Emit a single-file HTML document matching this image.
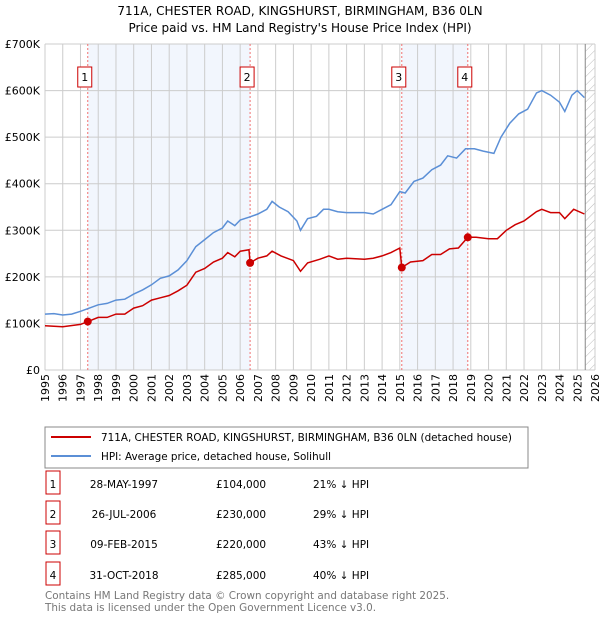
<!DOCTYPE html>
<html><head><meta charset="utf-8"><style>
body{margin:0;background:#fff;font-family:"Liberation Sans","DejaVu Sans",sans-serif;}
svg text{font-family:"DejaVu Sans","Liberation Sans",sans-serif;}
</style></head><body>
<svg id="c" width="600" height="620" viewBox="0 0 600 620" xmlns="http://www.w3.org/2000/svg">
<text x="300" y="15" text-anchor="middle" font-size="12">711A, CHESTER ROAD, KINGSHURST, BIRMINGHAM, B36 0LN</text>
<text x="300" y="32" text-anchor="middle" font-size="12">Price paid vs. HM Land Registry's House Price Index (HPI)</text>
<defs><pattern id="h" width="6" height="6" patternUnits="userSpaceOnUse" patternTransform="rotate(45)"><line x1="0" y1="0" x2="0" y2="6" stroke="#bbb" stroke-width="1"/></pattern></defs>
<g id="plot"></g>
<rect x="45" y="427" width="483" height="41" fill="#fff" stroke="#888"/>
<line x1="51" y1="437" x2="91" y2="437" stroke="#cc0000" stroke-width="2"/>
<text x="101" y="441" font-size="10.4">711A, CHESTER ROAD, KINGSHURST, BIRMINGHAM, B36 0LN (detached house)</text>
<line x1="51" y1="456" x2="91" y2="456" stroke="#5b8fd6" stroke-width="2"/>
<text x="101" y="460" font-size="10.4">HPI: Average price, detached house, Solihull</text>
<g id="tbl" font-size="10.5"></g>
<text x="45" y="599" font-size="10.4" fill="#777">Contains HM Land Registry data © Crown copyright and database right 2025.</text>
<text x="45" y="611" font-size="10.4" fill="#777">This data is licensed under the Open Government Licence v3.0.</text>
</svg>
<script>
const hpiT=[1995,1995.5,1996,1996.5,1997,1997.5,1998,1998.5,1999,1999.5,2000,2000.5,2001,2001.5,2002,2002.5,2003,2003.5,2004,2004.5,2005,2005.3,2005.7,2006,2006.5,2007,2007.5,2007.8,2008.2,2008.7,2009.2,2009.4,2009.8,2010.3,2010.7,2011,2011.5,2012,2012.5,2013,2013.5,2014,2014.5,2015,2015.3,2015.8,2016.3,2016.8,2017.3,2017.7,2018.2,2018.7,2019.2,2019.7,2020.3,2020.7,2021.2,2021.7,2022.2,2022.7,2023,2023.5,2024,2024.3,2024.7,2025,2025.4];
const hpiV=[120,121,118,120,126,133,140,143,150,152,163,172,183,197,202,215,235,265,280,295,305,320,310,322,328,335,345,362,350,340,320,300,325,330,345,345,340,338,338,338,335,345,355,383,380,405,412,430,440,460,455,475,475,470,465,500,530,550,560,595,600,590,575,555,590,600,585];
const priceT=[1995,1996,1997,1997.41,1998,1998.5,1999,1999.5,2000,2000.5,2001,2001.5,2002,2002.5,2003,2003.5,2004,2004.5,2005,2005.3,2005.7,2006,2006.5,2006.56,2007,2007.5,2007.8,2008.3,2009,2009.4,2009.8,2010.5,2011,2011.5,2012,2013,2013.5,2014,2014.5,2015.0,2015.11,2015.6,2016.3,2016.8,2017.3,2017.8,2018.3,2018.83,2019.3,2020,2020.5,2021,2021.5,2022,2022.7,2023,2023.5,2024,2024.3,2024.8,2025.4];
const priceV=[95,93,98,104,113,113,120,120,133,138,150,155,160,170,182,210,218,232,240,252,243,255,258,230,240,245,255,245,235,212,230,238,245,238,240,238,240,245,252,262,220,232,235,248,248,260,262,285,285,282,282,300,312,320,340,345,338,338,325,345,335];
const saleT=[1997.41,2006.56,2015.11,2018.83];
const saleV=[104,230,220,285];
const saleLabels=["1","2","3","4"];
const saleDates=["28-MAY-1997","26-JUL-2006","09-FEB-2015","31-OCT-2018"];
const salePrices=["£104,000","£230,000","£220,000","£285,000"];
const saleHpi=["21% ↓ HPI","29% ↓ HPI","43% ↓ HPI","40% ↓ HPI"];
const yTicks=[0,100,200,300,400,500,600,700];
const yTickLabels=["£0","£100K","£200K","£300K","£400K","£500K","£600K","£700K"];
const xYears=[1995,1996,1997,1998,1999,2000,2001,2002,2003,2004,2005,2006,2007,2008,2009,2010,2011,2012,2013,2014,2015,2016,2017,2018,2019,2020,2021,2022,2023,2024,2025,2026];

const X0=45,X1=595,Y0=370,Y1=44;
const xs=t=>X0+(t-1995)/(2026-1995)*(X1-X0);
const ys=v=>Y0-v/700*(Y0-Y1);
const NS="http://www.w3.org/2000/svg";
const g=document.getElementById('plot');
function mk(tag,attrs,parent){const e=document.createElementNS(NS,tag);for(const k in attrs)e.setAttribute(k,attrs[k]);(parent||g).appendChild(e);return e;}
let e;
e=mk('rect',{x:X0,y:Y1,width:X1-X0,height:Y0-Y1,fill:'#fff'});


for(let i=0;i<2;i++){
 e=mk('rect',{x:xs(saleT[i*2]),y:Y1,width:xs(saleT[i*2+1])-xs(saleT[i*2]),height:Y0-Y1,fill:'#f2f6fd'});
 
 
}
e=mk('rect',{x:xs(2025.45),y:Y1,width:X1-xs(2025.45),height:Y0-Y1,fill:'url(#h)'});


xYears.forEach(yr=>{
 e=mk('line',{x1:xs(yr),x2:xs(yr),y1:Y1,y2:Y0,stroke:'#ccc','stroke-width':1});
 
 
 e=mk('text',{x:0,y:0,'font-size':11,'text-anchor':'end',transform:`translate(${xs(yr)+4},374) rotate(-90)`});
 e.textContent=yr;
 
 
});
yTicks.forEach((v,i)=>{
 e=mk('line',{x1:X0,x2:X1,y1:ys(v),y2:ys(v),stroke:'#ccc','stroke-width':1});
 
 
 e=mk('text',{x:40,y:ys(v)+4,'font-size':11,'text-anchor':'end'});
 e.textContent=yTickLabels[i];
 
 
});
e=mk('line',{x1:xs(2025.45),x2:xs(2025.45),y1:Y1,y2:Y0,stroke:'#888','stroke-width':1});


saleT.forEach((t,i)=>{
 e=mk('line',{x1:xs(t),x2:xs(t),y1:Y1,y2:Y0,stroke:'#f07070','stroke-width':1,'stroke-dasharray':'2,2'});
 
 
 e=mk('rect',{x:xs(t)-10,y:67,width:14,height:20,fill:'#fff',stroke:'#cc0000'});
 
 
 e=mk('text',{x:xs(t)-3,y:81,'font-size':11,'text-anchor':'middle'});
 e.textContent=saleLabels[i];
 
 
});
const path=(T,V)=>T.map((t,i)=>(i?'L':'M')+xs(t).toFixed(1)+','+ys(V[i]).toFixed(1)).join('');
e=mk('path',{d:path(hpiT,hpiV),fill:'none',stroke:'#5b8fd6','stroke-width':1.5});


e=mk('path',{d:path(priceT,priceV),fill:'none',stroke:'#cc0000','stroke-width':1.5});


saleT.forEach((t,i)=>{
 e=mk('circle',{cx:xs(t),cy:ys(saleV[i]),r:4,fill:'#cc0000'});
 
 
});
const tb=document.getElementById('tbl');
const rowY=[484,514,544,575];
saleLabels.forEach((l,i)=>{
 const y=rowY[i];
 e=mk('rect',{x:46,y:y-13,width:14,height:23,fill:'#fff',stroke:'#cc0000'},tb);
 
 
 e=mk('text',{x:53,y:y+4,'text-anchor':'middle'},tb);e.textContent=l;
 
 
 e=mk('text',{x:124,y:y+4,'text-anchor':'middle'},tb);e.textContent=saleDates[i];
 
 
 e=mk('text',{x:216,y:y+4},tb);e.textContent=salePrices[i];
 
 
 e=mk('text',{x:313,y:y+4},tb);e.textContent=saleHpi[i];
 
 
});
</script>
</body></html>
